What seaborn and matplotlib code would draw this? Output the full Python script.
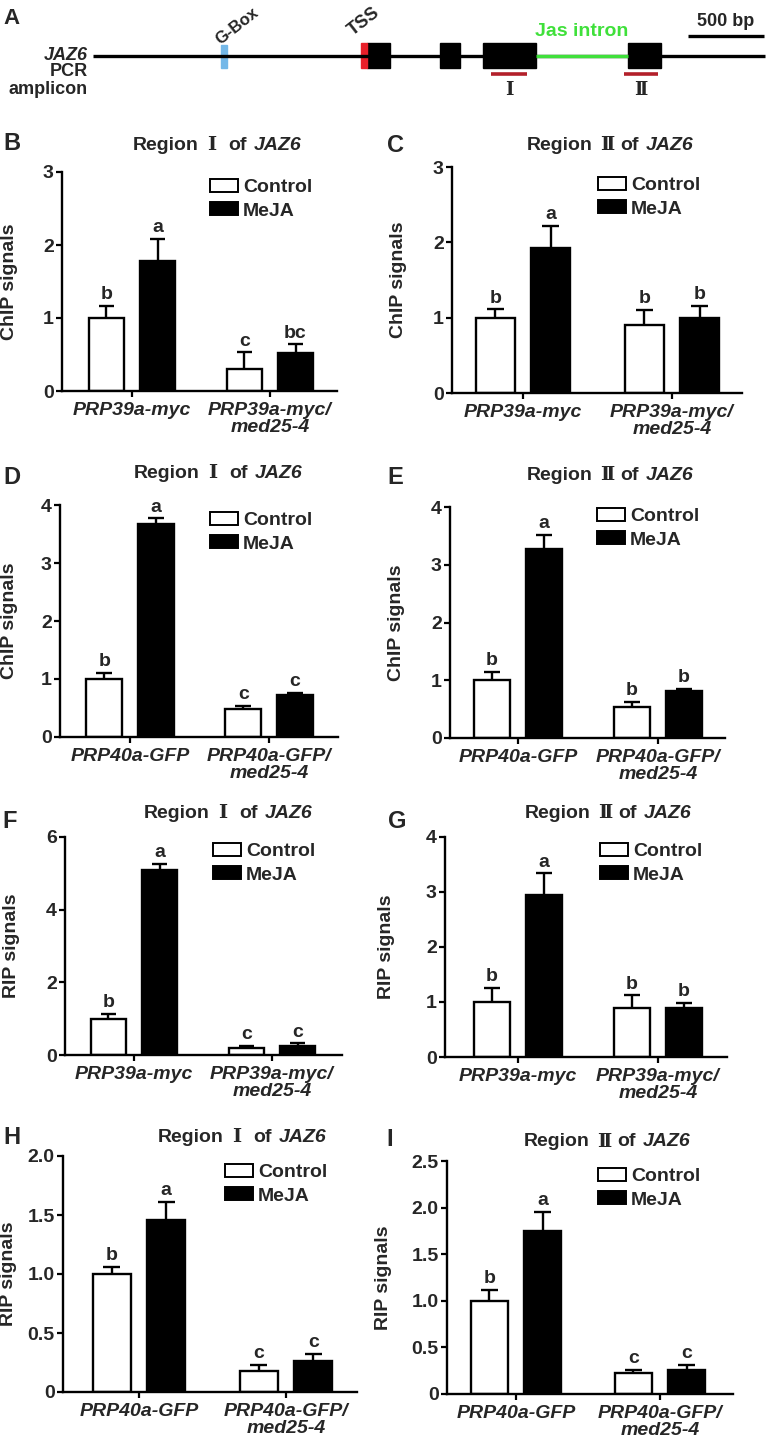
import matplotlib
matplotlib.use("Agg")
import matplotlib.pyplot as plt
from matplotlib.patches import Patch, Rectangle
import pandas as pd
import seaborn as sns

sns.set_theme(style="ticks")
plt.rcParams['font.family'] = ['Liberation Sans', 'Noto Sans CJK SC', 'DejaVu Sans']
plt.rcParams['font.weight'] = 'bold'
plt.rcParams['axes.labelweight'] = 'bold'
SERIF = ['DejaVu Serif', 'Noto Sans CJK SC']

# ---- data ----
treatments = ["Control", "MeJA"]
lines_39 = ["PRP39a-myc", "PRP39a-myc/\nmed25-4"]
lines_40 = ["PRP40a-GFP", "PRP40a-GFP/\nmed25-4"]

# gene model of JAZ6 (bp, TSS = 0)
gene_start, gene_end = -1800, 2620
gbox_pos = -940
exon_starts = [0, 480, 763, 1717]
exon_ends = [151, 612, 1112, 1934]
jas_intron = [1112, 1717]
amplicon_starts = [815, 1690]
amplicon_ends = [1052, 1914]
amplicon_names = ["Ⅰ", "Ⅱ"]
scale_bp = 500

# B  ChIP, PRP39a-myc, region I
b_ctrl = [1.0, 0.30]
b_ctrl_err = [0.17, 0.23]
b_meja = [1.78, 0.52]
b_meja_err = [0.30, 0.12]
b_letters = [["b", "c"], ["a", "bc"]]
# C  ChIP, PRP39a-myc, region II
c_ctrl = [1.0, 0.90]
c_ctrl_err = [0.11, 0.20]
c_meja = [1.92, 1.0]
c_meja_err = [0.30, 0.16]
c_letters = [["b", "b"], ["a", "b"]]
# D  ChIP, PRP40a-GFP, region I
d_ctrl = [1.0, 0.49]
d_ctrl_err = [0.10, 0.05]
d_meja = [3.67, 0.72]
d_meja_err = [0.10, 0.04]
d_letters = [["b", "c"], ["a", "c"]]
# E  ChIP, PRP40a-GFP, region II
e_ctrl = [1.0, 0.54]
e_ctrl_err = [0.14, 0.08]
e_meja = [3.28, 0.81]
e_meja_err = [0.24, 0.04]
e_letters = [["b", "b"], ["a", "b"]]
# F  RIP, PRP39a-myc, region I
f_ctrl = [1.0, 0.20]
f_ctrl_err = [0.13, 0.05]
f_meja = [5.08, 0.26]
f_meja_err = [0.18, 0.06]
f_letters = [["b", "c"], ["a", "c"]]
# G  RIP, PRP39a-myc, region II
g_ctrl = [1.0, 0.90]
g_ctrl_err = [0.25, 0.22]
g_meja = [2.94, 0.90]
g_meja_err = [0.40, 0.08]
g_letters = [["b", "b"], ["a", "b"]]
# H  RIP, PRP40a-GFP, region I
h_ctrl = [1.0, 0.175]
h_ctrl_err = [0.06, 0.055]
h_meja = [1.46, 0.26]
h_meja_err = [0.15, 0.065]
h_letters = [["b", "c"], ["a", "c"]]
# I  RIP, PRP40a-GFP, region II
i_ctrl = [1.0, 0.23]
i_ctrl_err = [0.12, 0.03]
i_meja = [1.75, 0.26]
i_meja_err = [0.20, 0.05]
i_letters = [["b", "c"], ["a", "c"]]

W, H = 770, 1440
fig = plt.figure(figsize=(W / 100, H / 100), dpi=100)
renderer = fig.canvas.get_renderer()


def fx(x):
    return x / W


def fy(y):
    return 1 - y / H


# ---- A: gene diagram ----
px_per_bp = 76 / scale_bp
tss_px = 367
ax0 = fig.add_axes([0, fy(110), 1, 110 / H])
ax0.set_xlim(-tss_px / px_per_bp, (W - tss_px) / px_per_bp)
ax0.set_ylim(110, 0)
ax0.axis('off')
ax0.plot([gene_start, gene_end], [56, 56], color='black', lw=2.4, solid_capstyle='butt')
ax0.plot(jas_intron, [56, 56], color='#3fe03a', lw=2.4, solid_capstyle='butt')
for s, e in zip(exon_starts, exon_ends):
    ax0.add_patch(Rectangle((s, 43), e - s, 25, color='black'))
ax0.add_patch(Rectangle((gbox_pos - 18, 45), 36, 23, color='#74b8e8'))
ax0.add_patch(Rectangle((-40, 43), 40, 25, color='#e8202a'))
for s, e, n in zip(amplicon_starts, amplicon_ends, amplicon_names):
    ax0.plot([s, e], [74, 74], color='#b3202a', lw=2.6, solid_capstyle='butt')
    ax0.text((s + e) / 2, 90, n, ha='center', va='center', fontsize=13, family=SERIF)
ax0.plot([gene_end - scale_bp - 10, gene_end - 10], [36, 36], color='black', lw=2.4,
         solid_capstyle='butt')
ax0.text(gene_end - 10 - scale_bp / 2, 22, "500 bp", ha='center', va='center', fontsize=13)
ax0.text(sum(jas_intron) / 2, 32, "Jas intron", ha='center', va='center', fontsize=14,
         color='#3fe03a')
ax0.text(gbox_pos - 15, 47, "G-Box", rotation=38, rotation_mode='anchor', ha='left',
         va='bottom', fontsize=12)
ax0.text(-80, 39, "TSS", rotation=38, rotation_mode='anchor', ha='left',
         va='bottom', fontsize=13)
fig.text(fx(88), fy(55), "JAZ6", ha='right', va='center', fontsize=13, style='italic')
fig.text(fx(88), fy(72), "PCR", ha='right', va='center', fontsize=13)
fig.text(fx(88), fy(89), "amplicon", ha='right', va='center', fontsize=13)
fig.text(fx(12), fy(18), "A", ha='center', va='center', fontsize=16)

# ---- bar panels ----
panels = [
    dict(tag="B", reg="Ⅰ", lines=lines_39, ctrl=b_ctrl, ce=b_ctrl_err, meja=b_meja, me=b_meja_err,
         let=b_letters, ylab="ChIP signals", yt=[0, 1, 2, 3], box=(62, 172, 337, 391), tk=(132, 270),
         tag_xy=(12, 143), title_xy=(217, 145), leg=(210, 187), ylab_x=18),
    dict(tag="C", reg="Ⅱ", lines=lines_39, ctrl=c_ctrl, ce=c_ctrl_err, meja=c_meja, me=c_meja_err,
         let=c_letters, ylab="ChIP signals", yt=[0, 1, 2, 3], box=(452, 167, 742, 393), tk=(523, 672),
         tag_xy=(395, 145), title_xy=(610, 145), leg=(598, 185), ylab_x=407),
    dict(tag="D", reg="Ⅰ", lines=lines_40, ctrl=d_ctrl, ce=d_ctrl_err, meja=d_meja, me=d_meja_err,
         let=d_letters, ylab="ChIP signals", yt=[0, 1, 2, 3, 4], box=(60, 505, 338, 737), tk=(130, 269),
         tag_xy=(12, 477), title_xy=(218, 473), leg=(210, 520), ylab_x=18),
    dict(tag="E", reg="Ⅱ", lines=lines_40, ctrl=e_ctrl, ce=e_ctrl_err, meja=e_meja, me=e_meja_err,
         let=e_letters, ylab="ChIP signals", yt=[0, 1, 2, 3, 4], box=(450, 507, 725, 738), tk=(518, 658),
         tag_xy=(395, 477), title_xy=(610, 475), leg=(597, 516), ylab_x=405),
    dict(tag="F", reg="Ⅰ", lines=lines_39, ctrl=f_ctrl, ce=f_ctrl_err, meja=f_meja, me=f_meja_err,
         let=f_letters, ylab="RIP signals", yt=[0, 2, 4, 6], box=(65, 837, 342, 1055), tk=(134, 272),
         tag_xy=(10, 822), title_xy=(228, 813), leg=(213, 851), ylab_x=20),
    dict(tag="G", reg="Ⅱ", lines=lines_39, ctrl=g_ctrl, ce=g_ctrl_err, meja=g_meja, me=g_meja_err,
         let=g_letters, ylab="RIP signals", yt=[0, 1, 2, 3, 4], box=(445, 837, 727, 1057), tk=(518, 658),
         tag_xy=(397, 822), title_xy=(608, 813), leg=(600, 851), ylab_x=395),
    dict(tag="H", reg="Ⅰ", lines=lines_40, ctrl=h_ctrl, ce=h_ctrl_err, meja=h_meja, me=h_meja_err,
         let=h_letters, ylab="RIP signals", yt=[0, 0.5, 1.0, 1.5, 2.0], box=(63, 1156, 357, 1392),
         tk=(139, 286), tag_xy=(12, 1137), title_xy=(242, 1137), leg=(225, 1172), ylab_x=17),
    dict(tag="I", reg="Ⅱ", lines=lines_40, ctrl=i_ctrl, ce=i_ctrl_err, meja=i_meja, me=i_meja_err,
         let=i_letters, ylab="RIP signals", yt=[0, 0.5, 1.0, 1.5, 2.0, 2.5], box=(447, 1161, 733, 1394),
         tk=(516, 660), tag_xy=(390, 1140), title_xy=(607, 1142), leg=(598, 1176), ylab_x=392),
]

for p in panels:
    l, t, r, b = p['box']
    ax = fig.add_axes([fx(l), fy(b), (r - l) / W, (b - t) / H])
    df = pd.DataFrame({
        "line": p['lines'] * 2,
        "treatment": [treatments[0]] * 2 + [treatments[1]] * 2,
        "value": p['ctrl'] + p['meja'],
    })
    sns.barplot(data=df, x="line", y="value", hue="treatment", order=p['lines'],
                hue_order=treatments, palette={"Control": "white", "MeJA": "black"},
                edgecolor="black", linewidth=1.7, width=0.74, gap=0.3, errorbar=None,
                legend=False, ax=ax)
    errs = [p['ce'], p['me']]
    for k, cont in enumerate(ax.containers):
        for j, bar in enumerate(cont):
            xc = bar.get_x() + bar.get_width() / 2
            top = bar.get_height()
            cap = top + errs[k][j]
            hw = bar.get_width() * 0.22
            ax.vlines(xc, top, cap, color='black', lw=1.7)
            ax.hlines(cap, xc - hw, xc + hw, color='black', lw=1.7)
            ax.annotate(p['let'][k][j], (xc, cap), xytext=(0, 2), textcoords='offset points',
                        ha='center', va='bottom', fontsize=14, fontweight='bold')
    t0, t1 = p['tk']
    ax.set_xlim((l - t0) / (t1 - t0), (r - t0) / (t1 - t0))
    ax.set_ylim(0, p['yt'][-1])
    ax.set_yticks(p['yt'])
    if any(v != int(v) for v in p['yt']):
        ax.set_yticklabels(["0" if v == 0 else f"{v:.1f}" for v in p['yt']])
    else:
        ax.set_yticklabels([f"{v:g}" for v in p['yt']])
    ax.set_xticks([0, 1])
    ax.set_xticklabels(p['lines'], style='italic', fontsize=14, linespacing=1.0)
    ax.set_xlabel("")
    ax.set_ylabel(p['ylab'], fontsize=14, fontweight='bold')
    ax.yaxis.set_label_coords((p['ylab_x'] - l) / (r - l), 0.5)
    for lab in ax.get_yticklabels():
        lab.set_fontsize(14)
        lab.set_fontweight('bold')
    sns.despine(ax=ax)
    for s in ['left', 'bottom']:
        ax.spines[s].set_linewidth(1.7)
        ax.spines[s].set_color('black')
    ax.tick_params(axis='y', length=4, width=1.6, color='black', pad=2)
    ax.tick_params(axis='x', length=4, width=1.6, color='black', pad=4)
    ax.patch.set_alpha(0)

    # legend
    handles = [Patch(facecolor='white', edgecolor='black', linewidth=1.4, label=treatments[0]),
               Patch(facecolor='black', edgecolor='black', linewidth=1.4, label=treatments[1])]
    lx, ly = p['leg']
    fig.legend(handles=handles, loc='upper left', bbox_to_anchor=(fx(lx), fy(ly - 8)),
               bbox_transform=fig.transFigure, frameon=False, borderpad=0,
               borderaxespad=0, handlelength=1.45, handleheight=0.62, handletextpad=0.25,
               labelspacing=0.32, prop={'weight': 'bold', 'size': 14})

    # panel letter and title pieces
    fig.text(fx(p['tag_xy'][0]), fy(p['tag_xy'][1]), p['tag'], ha='center', va='center',
             fontsize=17, fontweight='bold')
    cx, cy = p['title_xy']
    pieces = [
        fig.text(0, fy(cy), "Region", ha='left', va='center', fontsize=14, fontweight='bold'),
        fig.text(0, fy(cy), p['reg'], ha='left', va='center', fontsize=14, fontweight='bold',
                 family=SERIF),
        fig.text(0, fy(cy), "of", ha='left', va='center', fontsize=14, fontweight='bold'),
        fig.text(0, fy(cy), "JAZ6", ha='left', va='center', fontsize=14, fontweight='bold',
                 style='italic'),
    ]
    gaps = [8, 12 if p['reg'] == "Ⅰ" else 6, 7]
    widths = [pc.get_window_extent(renderer).width for pc in pieces]
    x = cx - (sum(widths) + sum(gaps)) / 2
    for k, pc in enumerate(pieces):
        pc.set_x(fx(x))
        x += widths[k] + (gaps[k] if k < len(gaps) else 0)

fig.savefig("out.png", dpi=100)
